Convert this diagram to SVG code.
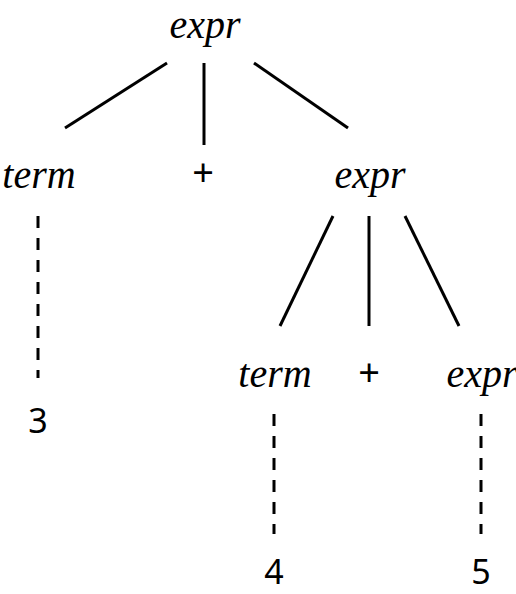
<svg xmlns="http://www.w3.org/2000/svg" width="516" height="594" viewBox="0 0 516 594">
<style>
.nt{font-family:"Liberation Serif",serif;font-style:italic;font-size:40px;fill:#000;text-anchor:middle}
.t{font-family:"Noto Sans","Open Sans",sans-serif;font-size:34px;fill:#000;text-anchor:middle}
.p{font-family:"Noto Sans","Open Sans",sans-serif;font-size:38px;fill:#000;text-anchor:middle}
.e{stroke:#000;stroke-width:3;fill:none}
.d{stroke:#000;stroke-width:3;fill:none;stroke-dasharray:12 10}
</style>
<rect width="516" height="594" fill="#fff"/>
<g id="connectors">
<line class="e" x1="167" y1="63" x2="65" y2="128"/>
<line class="e" x1="204" y1="63" x2="204" y2="145"/>
<line class="e" x1="254" y1="63" x2="348" y2="128"/>
<line class="d" x1="38" y1="216" x2="38" y2="378"/>
<line class="e" x1="333" y1="216" x2="280" y2="326"/>
<line class="e" x1="369" y1="216" x2="369" y2="326"/>
<line class="e" x1="405" y1="216" x2="459" y2="326"/>
<line class="d" x1="274" y1="414" x2="274" y2="534"/>
<line class="d" x1="481" y1="414" x2="481" y2="534"/>
</g>
<g id="n-expr1"><text class="nt" x="205" y="38">expr</text></g>
<g id="n-term1"><text class="nt" x="39" y="188">term</text></g>
<g id="n-plus1"><text class="p" x="203" y="186">+</text></g>
<g id="n-expr2"><text class="nt" x="370" y="188">expr</text></g>
<g id="n-3"><text class="t" x="38" y="433">3</text></g>
<g id="n-term2"><text class="nt" x="275" y="387">term</text></g>
<g id="n-plus2"><text class="p" x="369" y="386">+</text></g>
<g id="n-expr3"><text class="nt" x="482" y="387">expr</text></g>
<g id="n-4"><text class="t" x="274" y="584">4</text></g>
<g id="n-5"><text class="t" x="481" y="584">5</text></g>
</svg>
